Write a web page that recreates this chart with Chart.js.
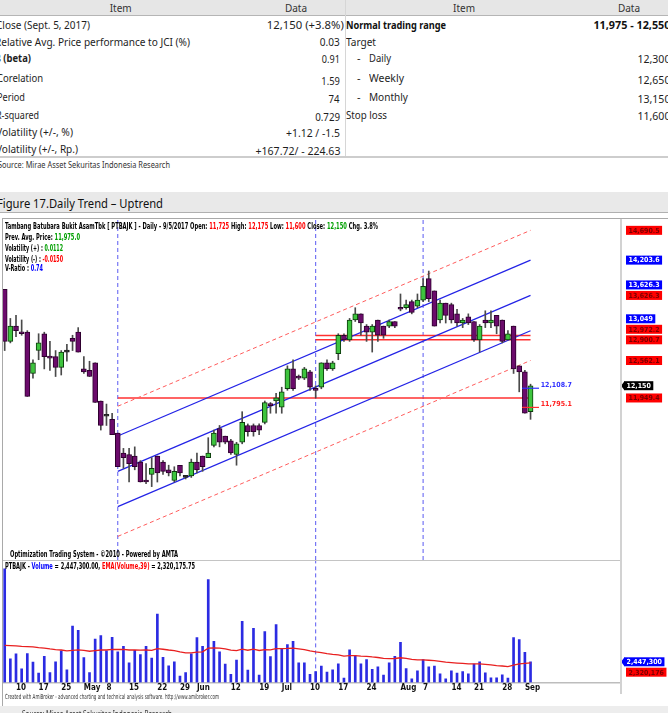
<!DOCTYPE html>
<html><head><meta charset="utf-8">
<script src="https://cdn.jsdelivr.net/npm/chart.js@4.4.1/dist/chart.umd.min.js"></script>
<style>
html,body{margin:0;padding:0;background:#fff}
body{width:668px;height:713px;position:relative;overflow:hidden;font-family:"Noto Sans","Open Sans",sans-serif;color:#1e1e1e}
.a{position:absolute;white-space:nowrap;line-height:14px;height:14px;font-size:11px}
.h{font-size:10px;color:#333}
.s{font-size:9px;color:#333}
.f{font-size:13px;color:#111;line-height:16px;height:16px}
.n{font-family:"Liberation Sans Narrow","DejaVu Sans Condensed","Arial Narrow",sans-serif;font-weight:bold;font-size:8px;line-height:10px;height:10px;color:#000}
.c{font-family:"Liberation Sans Narrow","DejaVu Sans Condensed","Arial Narrow",sans-serif;font-size:7px;line-height:9px;height:9px;color:#333}
.b{position:absolute}
canvas{position:absolute}
</style></head><body>
<div class="b" style="left:0;top:0;width:668px;height:15px;background:#e6e6e6;border-bottom:1px solid #b5b5b5"></div>
<div class="b" style="left:345px;top:0;width:1px;height:157px;background:#d6d6d6"></div>
<div class="b" style="left:0;top:156px;width:668px;height:2px;background:#cdcdcd"></div>
<div class="b" style="left:0;top:192px;width:668px;height:20px;background:#e9e9e9;border-bottom:1px solid #b0b0b0"></div>
<div class="b" style="left:2px;top:218px;width:700px;height:488px;border:1px solid #a9a9a9"></div>
<canvas id="pc" width="665" height="341" style="left:3px;top:219px"></canvas>
<canvas id="vc" width="665" height="134" style="left:3px;top:560px"></canvas>
<div class="b" style="left:3px;top:559.5px;width:618px;height:1.5px;background:#c4c4c4"></div>
<div class="b" style="left:620px;top:219px;width:2px;height:475px;background:#d2d2d2"></div>
<div class="b" style="left:0;top:706px;width:668px;height:7px;background:#ededed"></div>
<script>
// ---------------- DATA ----------------
const dates = ['4/6','4/7','4/10','4/11','4/12','4/13','4/17','4/18','4/20','4/21','4/25','4/26','4/27','4/28',
 '5/2','5/3','5/4','5/5','5/8','5/9','5/10','5/12','5/15','5/16','5/17','5/18','5/19','5/22','5/23','5/24','5/26','5/29','5/30','5/31',
 '6/2','6/5','6/6','6/7','6/8','6/9','6/12','6/13','6/14','6/15','6/16','6/19','6/20','6/21','6/22',
 '7/3','7/4','7/5','7/6','7/7','7/10','7/11','7/12','7/13','7/14','7/17','7/18','7/19','7/20','7/21','7/24','7/25','7/26','7/27','7/28','7/31',
 '8/1','8/2','8/3','8/4','8/7','8/8','8/9','8/10','8/11','8/14','8/15','8/16','8/18','8/21','8/22','8/23','8/24','8/25','8/28','8/29','8/30','8/31',
 '9/4','9/5'];
const openP = [13725,12875,13125,13025,13025,12350,12725,13000,12625,12625,
 12450,12700,12925,13025,12425,12400,12525,11900,11650,11600,
 11375,11050,11025,11000,10900,10600,10700,11000,10900,10775,
 10600,10850,10650,10675,10900,11000,10975,11175,11450,11325,
 11250,11025,11225,11500,11500,11500,11550,11850,11900,11800,
 12100,12425,12300,12275,12375,12100,12125,12525,12425,12675,
 12975,12900,13225,13325,13125,13025,13225,13125,13125,13200,
 13425,13425,13525,13450,13550,13900,13700,13225,13500,13475,
 13325,13175,13275,13200,12900,13225,13175,13300,13225,12900,
 13125,12475,12375,11725];
const highP = [13725,13250,13300,13225,13050,12575,13000,13025,12875,12725,
 12725,12825,12975,13100,12625,12550,12525,11900,11850,11700,
 11375,11125,11125,11150,10925,10875,10975,11000,10925,10850,
 10825,10850,10675,10950,11050,11000,11300,11425,11500,11325,
 11275,11225,11725,11525,11525,11525,11900,11875,12025,12125,
 12475,12575,12325,12450,12400,12150,12525,12575,12550,13000,
 13000,13250,13425,13325,13150,13150,13225,13125,13225,13200,
 13650,13550,13550,13650,13900,14025,13700,13550,13500,13500,
 13400,13250,13325,13200,13150,13375,13375,13300,13225,13050,
 13125,12475,12400,12175];
const lowP = [12725,12850,12950,12975,11975,12275,12575,12425,12400,12300,
 12325,12550,12725,12700,12350,12300,11875,11425,11500,11350,
 10825,10800,10575,10775,10575,10550,10500,10575,10700,10675,
 10575,10675,10625,10650,10725,10750,10975,11150,11150,11200,
 11025,10850,11200,11325,11325,11350,11525,11700,11700,11700,
 12075,12075,12250,12250,12075,11950,12100,12400,12400,12575,
 12875,12875,13200,12975,12875,12700,12875,12925,13100,13100,
 13375,13400,13325,13425,13525,13525,13125,13175,13175,13175,
 13125,13100,13150,12875,12700,13100,13100,13000,12850,12900,
 12350,12050,11700,11600];
const closeP = [12875,13125,13050,13000,11975,12525,12850,12625,12600,12450,
 12700,12700,12875,12700,12375,12300,11875,11500,11650,11350,
 10825,10975,10875,10825,10575,10575,10800,10725,10750,10725,
 10750,10725,10650,10900,10775,10825,11050,11375,11225,11225,
 11050,11200,11550,11400,11400,11425,11875,11825,11950,12050,
 12425,12100,12275,12425,12125,12075,12525,12425,12525,12975,
 12900,13225,13325,13175,13025,13125,12975,12975,13200,13125,
 13400,13475,13350,13550,13775,13575,13125,13500,13300,13225,
 13175,13225,13175,12900,13125,13175,13225,13125,12875,13000,
 12425,12375,11700,12150];
const volume = [13500000,2800000,3390000,1620000,3430000,2400000,1100000,3110000,1180000,2440000,
 3740000,1500000,6700000,6190000,2950000,1180000,5160000,5560000,3740000,5360000,
 3630000,4290000,2330000,3820000,3310000,4290000,2880000,8120000,2990000,1970000,
 2440000,750000,1180000,3390000,5320000,4290000,12200000,4890000,3630000,2170000,
 950000,2640000,7250000,1460000,6420000,870000,6030000,3070000,6860000,4060000,
 4490000,4890000,2330000,2330000,950000,1300000,1930000,1220000,1500000,2210000,
 510000,3860000,3150000,2210000,2720000,1540000,1850000,870000,2330000,3110000,
 4770000,1650000,430000,1380000,2720000,1850000,1930000,1020000,430000,1380000,
 1100000,1300000,1020000,2170000,2440000,1140000,550000,550000,910000,510000,
 5320000,5080000,3580000,2447300];
const volEMA = [4410000,4380000,4350000,4290000,4260000,4210000,4120000,4070000,3970000,3900000,
 3850000,3740000,3800000,3860000,3800000,3700000,3770000,3850000,3850000,3920000,
 3910000,3930000,3850000,3850000,3830000,3850000,3800000,4000000,3940000,3850000,
 3780000,3630000,3510000,3500000,3590000,3630000,4060000,4100000,4080000,3980000,
 3830000,3770000,3940000,3820000,3950000,3790000,3900000,3860000,4010000,4010000,
 4030000,4070000,3980000,3900000,3750000,3630000,3540000,3420000,3330000,3270000,
 3130000,3170000,3170000,3120000,3100000,3020000,2960000,2860000,2830000,2840000,
 2930000,2860000,2740000,2670000,2670000,2630000,2590000,2510000,2410000,2360000,
 2300000,2250000,2190000,2190000,2200000,2150000,2070000,2000000,1950000,1880000,
 2050000,2200000,2270000,2320176];
const tickDates  = ['4/10','4/17','4/25','5/2','5/8','5/15','5/22','5/29','6/2','6/12','6/19','7/3','7/10','7/17','7/24','8/1','8/7','8/14','8/21','8/28','9/4'];
const tickLabels = ['10','17','25','May','8','15','22','29','Jun','12','19','Jul','10','17','24','Aug','7','14','21','28','Sep'];
const markerDates = ['5/10','7/11','8/7'];
const channelDates = ['5/10','9/5'];
const blueUpper = [11327.3, 14203.6];
const blueMid   = [10750.0, 13626.3];
const blueLower = [10172.7, 13049.0];
const redUpper  = [11814.2, 14690.5];
const redLower  = [9685.8, 12562.1];
const supportLevels = [11949.4];          // from first marker
const resistLevels  = [12972.2, 12900.7]; // from second marker
const projection = [12108.7, 11795.1];    // blue / red targets

// ---------------- helpers ----------------
const NARROW = '"Liberation Sans Narrow","DejaVu Sans Condensed","Arial Narrow",sans-serif';
const idx = d => dates.indexOf(d);
const N = dates.length, LAST = N - 1;
const P_MIN = 9300, P_MAX = 14876, V_MAX = 14540000;
const X_MIN = -0.3, X_MAX = 109;
const fmt = v => Number.isInteger(Math.round(v*10)/10) ? Math.round(v).toLocaleString('en-US') : v.toLocaleString('en-US',{minimumFractionDigits:1,maximumFractionDigits:1});
const up = i => closeP[i] > openP[i], flat = i => closeP[i] === openP[i];
const seg = (a, b, v) => [{x:a, y:v[0]}, {x:b, y:v[1]}];
const lineDS = (data, color, w, dash, order) => ({type:'line', data, borderColor:color, borderWidth:w, borderDash:dash||[], pointRadius:0, fill:false, tension:0, order});

const labelPlugin = {
  id:'rlabels',
  afterDatasetsDraw(chart, args, o) {
    if (!o.items) return;
    const {ctx, chartArea, scales:{y}} = chart;
    const its = o.items.map(it => Object.assign({}, it, {py: y.getPixelForValue(it.v)}));
    its.sort((a,b) => a.py - b.py);
    if (o.dir === 'up') { for (let j = its.length-2; j >= 0; j--) its[j].py = Math.min(its[j].py, its[j+1].py - o.gap); }
    else { for (let j = 1; j < its.length; j++) its[j].py = Math.max(its[j].py, its[j-1].py + o.gap); }
    ctx.save();
    ctx.font = 'bold 7px ' + NARROW; ctx.textBaseline = 'middle'; ctx.textAlign = 'center';
    its.forEach(it => {
      const t = fmt(it.v), w = ctx.measureText(t).width + 5, h = 9;
      const x0 = chartArea.right + (it.arrow ? 3 : 5);
      ctx.fillStyle = it.bg;
      ctx.fillRect(x0, it.py - h/2, w, h);
      if (it.arrow) { ctx.beginPath(); ctx.moveTo(x0+0.5, it.py - h/2); ctx.lineTo(x0 - 3, it.py); ctx.lineTo(x0+0.5, it.py + h/2); ctx.closePath(); ctx.fill(); }
      ctx.fillStyle = it.fg; ctx.fillText(t, x0 + w/2, it.py + 0.5);
    });
    if (o.proj) {
      o.proj.forEach(p => {
        ctx.fillStyle = p.c; ctx.textAlign = 'left';
        ctx.fillText(fmt(p.v), chart.scales.x.getPixelForValue(LAST + 1.8), y.getPixelForValue(p.v) - 3);
      });
    }
    ctx.restore();
  }
};
Chart.register(labelPlugin);

// ---------------- price chart ----------------
const c0 = idx(channelDates[0]), c1 = idx(channelDates[1]);
const PURPLE = '#6b0b6b', PURPLE_B = '#2e002e', GREEN = '#3ec43e', GREEN_B = '#0c3c0c';
const priceDatasets = [
  {type:'bar', data: dates.map((d,i) => ({x:i, y:[lowP[i], highP[i]]})), backgroundColor:'#4a4a4a', barThickness:1, grouped:false, order:2},
  {type:'bar', data: dates.map((d,i) => ({x:i, y:[Math.min(openP[i],closeP[i]), Math.max(openP[i],closeP[i])]})),
   backgroundColor: dates.map((d,i) => flat(i) ? '#222' : (up(i) ? GREEN : PURPLE)),
   borderColor: dates.map((d,i) => flat(i) ? '#222' : (up(i) ? GREEN_B : PURPLE_B)),
   borderWidth:1, borderSkipped:false, minBarLength:2, barThickness:5, grouped:false, order:1},
  lineDS(seg(c0, c1, blueUpper), '#2323e6', 1.2, null, 5),
  lineDS(seg(c0, c1, blueMid),   '#2323e6', 1.2, null, 5),
  lineDS(seg(c0, c1, blueLower), '#2323e6', 1.2, null, 5),
  lineDS(seg(c0, c1, redUpper),  '#ff5c5c', 1, [4,3], 5),
  lineDS(seg(c0, c1, redLower),  '#ff5c5c', 1, [4,3], 5),
  ...supportLevels.map(v => lineDS(seg(c0, c1, [v, v]), '#ff3030', 1.5, null, 6)),
  ...resistLevels.map(v => lineDS(seg(idx(markerDates[1]), c1, [v, v]), '#ff3030', 1.5, null, 6)),
  lineDS(seg(LAST-1.5, LAST+1.5, [projection[0], projection[0]]), '#3030ff', 1.2, null, 0),
  lineDS(seg(LAST-1.5, LAST+1.5, [projection[1], projection[1]]), '#ff3030', 1.2, null, 0),
  ...markerDates.map(d => lineDS(seg(idx(d), idx(d), [P_MIN, P_MAX]), '#5a5af2', 1, [4,3], 7))
];
const redMid = (redUpper[1] + redLower[1]) / 2;
new Chart(document.getElementById('pc'), {
  type:'bar',
  data:{datasets: priceDatasets},
  options:{
    responsive:false, animation:false, devicePixelRatio:1,
    layout:{padding:{left:0, right:47, top:0, bottom:0}},
    scales:{
      x:{type:'linear', min:X_MIN, max:X_MAX, display:false, offset:false},
      y:{type:'linear', min:P_MIN, max:P_MAX, display:false}
    },
    plugins:{legend:{display:false}, tooltip:{enabled:false},
      rlabels:{dir:'up', gap:10.5, items:[
        {v:redUpper[1], bg:'#ff0000', fg:'#7a0000'},
        {v:blueUpper[1], bg:'#0000ff', fg:'#ffffff'},
        {v:blueMid[1], bg:'#0000ff', fg:'#ffffff'},
        {v:redMid, bg:'#ff0000', fg:'#7a0000'},
        {v:blueLower[1], bg:'#0000ff', fg:'#ffffff'},
        {v:resistLevels[0], bg:'#ff0000', fg:'#7a0000'},
        {v:resistLevels[1], bg:'#ff0000', fg:'#7a0000'},
        {v:redLower[1], bg:'#ff0000', fg:'#7a0000'},
        {v:closeP[LAST], bg:'#000000', fg:'#ffffff', arrow:true},
        {v:supportLevels[0], bg:'#ff0000', fg:'#7a0000'}
      ], proj:[{v:projection[0], c:'#3030ff'}, {v:projection[1], c:'#ff2020'}]}
    }
  }
});

// ---------------- volume chart ----------------
const tickIdx = tickDates.map(idx);
new Chart(document.getElementById('vc'), {
  type:'bar',
  data:{datasets:[
    {type:'bar', data: volume.map((v,i) => ({x:i, y:v})), backgroundColor:'#2b2be2', barThickness:2, grouped:false, order:2},
    lineDS(volEMA.map((v,i) => ({x:i, y:v})), '#e82020', 1.3, null, 1),
    lineDS(seg(idx(markerDates[1]), idx(markerDates[1]), [0, V_MAX]), '#5a5af2', 1, [4,3], 3)
  ]},
  options:{
    responsive:false, animation:false, devicePixelRatio:1,
    layout:{padding:{left:0, right:47, top:0, bottom:0}},
    scales:{
      x:{type:'linear', min:X_MIN, max:X_MAX, offset:false,
         grid:{display:false, drawTicks:false}, border:{display:true, color:'#bdbdbd', width:1.5},
         afterBuildTicks: ax => { ax.ticks = tickIdx.map(v => ({value:v})); },
         ticks:{autoSkip:false, maxRotation:0, align:'start', padding:1, color:'#111',
                font:{family:NARROW, size:8, weight:'bold'},
                callback: v => tickLabels[tickIdx.indexOf(v)] }},
      y:{type:'linear', min:0, max:V_MAX, display:false}
    },
    plugins:{legend:{display:false}, tooltip:{enabled:false},
      rlabels:{dir:'down', gap:10.4, items:[
        {v:volume[LAST], bg:'#0000ff', fg:'#ffffff', arrow:true},
        {v:volEMA[LAST], bg:'#ff0000', fg:'#7a0000'}
      ]}}
  }
});

// ---------------- texts ----------------
function put(html, x, cy, w, align, cls, extra) {
  const s = document.createElement('span');
  s.className = 'a ' + (cls || '');
  s.innerHTML = html;
  if (extra) s.style.cssText += extra;
  document.body.appendChild(s);
  const lh = parseFloat(getComputedStyle(s).lineHeight);
  s.style.top = (cy - lh/2) + 'px';
  const nat = s.getBoundingClientRect().width;
  const sc = w ? w / nat : 1;
  if (align === 'r') { s.style.left = (x - nat) + 'px'; s.style.transformOrigin = 'right center'; }
  else if (align === 'c') { s.style.left = (x - nat/2) + 'px'; s.style.transformOrigin = 'center center'; }
  else { s.style.left = x + 'px'; s.style.transformOrigin = 'left center'; }
  s.style.transform = 'scaleX(' + sc + ')';
}
// table header
put('Item', 120.7, 7.5, 0, 'c', 'h'); put('Data', 296, 7.5, 0, 'c', 'h');
put('Item', 464, 7.5, 0, 'c', 'h');   put('Data', 629, 7.5, 0, 'c', 'h');
// left table
const leftItems = [['Close (Sept. 5, 2017)',-4,24.7,94],['Relative Avg. Price performance to JCI (%)',-5,41.7,195],['&beta; (beta)',-5,58.3,36,'font-weight:bold'],
 ['Corelation',-3,77.7,46],['Period',-3,97.3,28],['R-squared',-4,115,43],['Volatility (+/-, %)',-4,132.3,77],['Volatility (+/-, Rp.)',-4,149,82]];
leftItems.forEach(r => put(r[0], r[1], r[2], r[3], 'l', '', r[4]));
const leftVals = [['12,150 (+3.8%)',343.5,24.7,77],['0.03',340,42.3,20],['0.91',340,59.3,18],['1.59',340,81,18.5],['74',340,99,11],
 ['0.729',340,116.7,25],['+1.12 / -1.5',340,133.3,54],['+167.72/ - 224.63',340,150.7,85]];
leftVals.forEach(r => put(r[0], r[1], r[2], r[3], 'r'));
// right table
const rightItems = [['Normal trading range',346,24.7,100,'font-weight:bold;color:#111'],['Target',346,41.7,30],['-',357,58.3,0],['Daily',369,58.3,22],
 ['-',357,78,0],['Weekly',369,78,35],['-',357,97.3,0],['Monthly',369,97.3,39],['Stop loss',346,115,41]];
rightItems.forEach(r => put(r[0], r[1], r[2], r[3], 'l', '', r[4]));
const rightVals = [['11,975 - 12,550',670,24.7,77,'font-weight:bold;color:#111'],['12,300',670,58.7,33],['12,650',670,80,33],['13,150',670,99,33],['11,600',670,115.7,33]];
rightVals.forEach(r => put(r[0], r[1], r[2], r[3], 'r', '', r[4]));
put('Source: Mirae Asset Sekuritas Indonesia Research', -2, 164.7, 172, 'l', 's');
put('Figure 17.Daily Trend &ndash; Uptrend', -3, 202.7, 166, 'l', 'f');
// chart annotations
const R = 'color:#ff0000', G = 'color:#00a000', BL = 'color:#0000ff';
put('Tambang Batubara Bukit AsamTbk [ PTBAJK ] - Daily - 9/5/2017 Open: <span style="'+R+'">11,725</span> High: <span style="'+R+'">12,175</span> Low: <span style="'+R+'">11,600</span> Close: <span style="'+G+'">12,150</span> Chg. 3.8%', 5, 226.7, 373, 'l', 'n');
put('Prev. Avg. Price: <span style="'+G+'">11,975.0</span>', 5, 238, 75, 'l', 'n');
put('Volatility (+) : <span style="'+G+'">0.0112</span>', 5, 248.7, 58, 'l', 'n');
put('Volatility (-) : <span style="'+R+'">-0.0150</span>', 5, 259.7, 58, 'l', 'n');
put('V-Ratio : <span style="'+BL+'">0.74</span>', 5, 269.3, 38, 'l', 'n');
put('Optimization Trading System - &copy;2010 - Powered by AMTA', 10, 554.7, 168, 'l', 'n');
put('PTBAJK - <span style="'+BL+'">Volume</span> = 2,447,300.00, <span style="'+R+'">EMA(Volume,39)</span> = 2,320,175.75', 5, 566.7, 190, 'l', 'n');
put('Created with AmiBroker - advanced charting and technical analysis software. http://www.amibroker.com', 5, 697, 214, 'l', 'c');
put('Source: Mirae Asset Sekuritas Indonesia Research', 22, 714, 150, 'l', 's');
</script>
</body></html>
